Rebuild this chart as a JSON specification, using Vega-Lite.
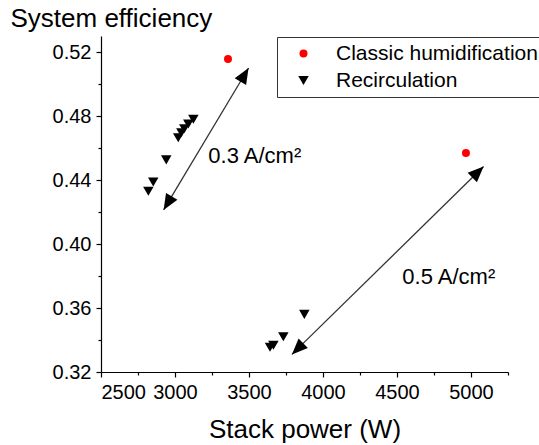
{
  "$schema": "https://vega.github.io/schema/vega-lite/v6.json",
  "width": 407,
  "height": 336,
  "autosize": "none",
  "padding": {"left": 101, "top": 36, "right": 31, "bottom": 73},
  "background": "white",
  "config": {
    "view": {"stroke": null},
    "font": "Liberation Sans",
    "axis": {
      "grid": false,
      "labelFont": "Liberation Sans",
      "labelFontSize": 20,
      "labelColor": "#000",
      "domainColor": "#000",
      "domainWidth": 1.2,
      "tickColor": "#000",
      "tickWidth": 1.2,
      "tickSize": 5,
      "labelPadding": 5,
      "titleFont": "Liberation Sans",
      "titleFontWeight": "normal",
      "titleColor": "#000"
    }
  },
  "datasets": {
    "points": [
      {"power": 3358, "eff": 0.5156, "series": "Classic humidification"},
      {"power": 4966, "eff": 0.4569, "series": "Classic humidification"},
      {"power": 3124, "eff": 0.478, "series": "Recirculation"},
      {"power": 3090, "eff": 0.475, "series": "Recirculation"},
      {"power": 3063, "eff": 0.472, "series": "Recirculation"},
      {"power": 3043, "eff": 0.4695, "series": "Recirculation"},
      {"power": 3022, "eff": 0.4664, "series": "Recirculation"},
      {"power": 2941, "eff": 0.4526, "series": "Recirculation"},
      {"power": 2853, "eff": 0.4388, "series": "Recirculation"},
      {"power": 2820, "eff": 0.433, "series": "Recirculation"},
      {"power": 3874, "eff": 0.356, "series": "Recirculation"},
      {"power": 3732, "eff": 0.342, "series": "Recirculation"},
      {"power": 3665, "eff": 0.3367, "series": "Recirculation"},
      {"power": 3642, "eff": 0.3355, "series": "Recirculation"}
    ],
    "arrows": [
      {"x": 2923, "y": 0.4213, "x2": 3497, "y2": 0.510},
      {"x": 3790, "y": 0.331, "x2": 5085, "y2": 0.4484}
    ],
    "heads": [
      {"x": 2923, "y": 0.4213, "angle": 210.96},
      {"x": 3497, "y": 0.510, "angle": 30.96},
      {"x": 3790, "y": 0.331, "angle": 225.65},
      {"x": 5085, "y": 0.4484, "angle": 45.65}
    ],
    "labels": [
      {"x": 3225, "y": 0.455, "text": "0.3 A/cm²"},
      {"x": 4536, "y": 0.3795, "text": "0.5 A/cm²"}
    ]
  },
  "resolve": {"axis": {"x": "independent", "y": "independent"}},
  "layer": [
    {
      "data": {"name": "arrows"},
      "mark": {"type": "rule", "color": "#333", "strokeWidth": 1.3},
      "encoding": {
        "x": {
          "field": "x", "type": "quantitative",
          "scale": {"domain": [2500, 5250], "nice": false, "zero": false},
          "axis": {
            "orient": "bottom",
            "values": [2500, 3000, 3500, 4000, 4500, 5000],
            "format": "d",
            "title": "Stack power (W)",
            "titleFontSize": 26,
            "titleY": 65,
            "titleBaseline": "alphabetic"
          }
        },
        "y": {
          "field": "y", "type": "quantitative",
          "scale": {"domain": [0.32, 0.53], "nice": false, "zero": false},
          "axis": {
            "orient": "left",
            "values": [0.32, 0.36, 0.40, 0.44, 0.48, 0.52],
            "format": ".2f",
            "title": "System efficiency",
            "titleFontSize": 26,
            "titleAngle": 0,
            "titleAlign": "left",
            "titleBaseline": "alphabetic",
            "titleX": -91,
            "titleY": -10
          }
        },
        "x2": {"field": "x2"},
        "y2": {"field": "y2"}
      }
    },
    {
      "data": {"name": "heads"},
      "mark": {
        "type": "point",
        "shape": "M0,0L0.42,1L-0.42,1Z",
        "filled": true,
        "color": "#000",
        "opacity": 1,
        "size": 1000
      },
      "encoding": {
        "x": {
          "field": "x", "type": "quantitative",
          "scale": {"domain": [2500, 5250], "nice": false, "zero": false},
          "axis": {
            "orient": "bottom",
            "values": [2750, 3250, 3750, 4250, 4750, 5250],
            "labels": false,
            "domain": false,
            "tickSize": 3,
            "title": null
          }
        },
        "y": {
          "field": "y", "type": "quantitative",
          "scale": {"domain": [0.32, 0.53], "nice": false, "zero": false},
          "axis": {
            "orient": "left",
            "values": [0.34, 0.38, 0.42, 0.46, 0.50],
            "labels": false,
            "domain": false,
            "tickSize": 3,
            "title": null
          }
        },
        "angle": {"field": "angle", "type": "quantitative", "scale": null}
      }
    },
    {
      "data": {"name": "points"},
      "mark": {"type": "point", "filled": true, "opacity": 1},
      "encoding": {
        "x": {"field": "power", "type": "quantitative", "axis": null},
        "y": {"field": "eff", "type": "quantitative", "axis": null},
        "color": {
          "field": "series", "type": "nominal",
          "scale": {"domain": ["Classic humidification", "Recirculation"], "range": ["#ff0000", "#000000"]},
          "legend": {
            "orient": "none",
            "legendX": 176,
            "legendY": 1,
            "title": null,
            "strokeColor": "#333",
            "fillColor": "white",
            "padding": 6,
            "symbolOffset": 10,
            "symbolSize": 90,
            "symbolStrokeWidth": 0,
            "labelFontSize": 21,
            "labelColor": "#000",
            "labelOffset": 22,
            "labelLimit": 400,
            "rowPadding": 5
          }
        },
        "shape": {
          "field": "series", "type": "nominal",
          "scale": {"domain": ["Classic humidification", "Recirculation"], "range": ["circle", "triangle-down"]}
        },
        "size": {
          "field": "series", "type": "nominal",
          "scale": {"domain": ["Classic humidification", "Recirculation"], "range": [64, 110]},
          "legend": null
        }
      }
    },
    {
      "data": {"name": "labels"},
      "mark": {"type": "text", "align": "left", "baseline": "middle", "fontSize": 22, "color": "#000"},
      "encoding": {
        "x": {"field": "x", "type": "quantitative", "axis": null},
        "y": {"field": "y", "type": "quantitative", "axis": null},
        "text": {"field": "text"}
      }
    }
  ]
}
